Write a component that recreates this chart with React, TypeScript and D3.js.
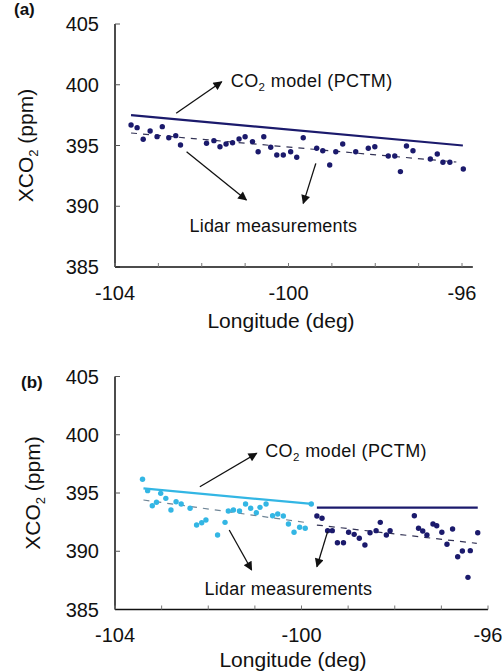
import React from "react";
import * as d3 from "d3";

// ---------- data ----------
// Panel (a): lidar measurements
const lonA = [-103.63, -103.49, -103.35, -103.19, -103.03, -102.91, -102.76, -102.6, -102.49, -101.89, -101.72, -101.58, -101.44, -101.29, -101.14, -101.0, -100.83, -100.7, -100.57, -100.41, -100.27, -100.12, -99.95, -99.81, -99.66, -99.35, -99.21, -99.05, -98.91, -98.75, -98.45, -98.16, -98.01, -97.7, -97.55, -97.42, -97.28, -97.13, -96.73, -96.57, -96.44, -96.28, -95.97];
const ppmA = [396.69, 396.47, 395.51, 396.19, 395.73, 396.55, 395.64, 395.81, 395.04, 395.18, 395.4, 394.9, 395.12, 395.23, 395.53, 395.72, 395.32, 394.49, 395.72, 394.85, 394.22, 394.22, 394.49, 394.03, 395.64, 394.77, 394.57, 393.4, 394.49, 395.12, 394.49, 394.77, 394.9, 394.14, 394.14, 392.85, 394.96, 394.57, 393.89, 394.3, 393.62, 393.62, 393.07];
const modelLonA = [-103.63, -95.98];
const modelPpmA = [397.5, 395.0];
const fitLonA = [-103.63, -96.13];
const fitPpmA = [396.03, 393.64];

// Panel (b): lidar measurements, western segment (light blue)
const lonB1 = [-103.41, -103.3, -103.2, -103.11, -103.02, -102.91, -102.8, -102.69, -102.58, -102.39, -102.25, -102.14, -102.05, -101.8, -101.64, -101.57, -101.46, -101.33, -101.2, -101.09, -100.97, -100.89, -100.76, -100.62, -100.51, -100.39, -100.28, -100.16, -100.04, -99.92, -99.79];
const ppmB1 = [396.18, 395.2, 393.91, 394.2, 394.97, 394.54, 393.54, 394.25, 394.06, 393.69, 392.25, 392.45, 392.68, 391.39, 392.48, 393.45, 393.54, 393.45, 394.06, 393.69, 393.31, 393.77, 394.06, 393.05, 393.2, 393.03, 392.34, 391.63, 392.06, 391.97, 394.06];
// Panel (b): lidar measurements, eastern segment (navy)
const lonB2 = [-99.67, -99.56, -99.44, -99.34, -99.23, -99.1, -98.99, -98.87, -98.76, -98.64, -98.53, -98.4, -98.31, -98.18, -98.1, -97.58, -97.49, -97.4, -97.31, -97.18, -97.1, -96.99, -96.88, -96.76, -96.65, -96.55, -96.43, -96.38, -96.22];
const ppmB2 = [393.03, 392.83, 391.77, 391.77, 390.73, 390.73, 391.63, 391.45, 391.11, 390.54, 391.59, 391.77, 392.48, 391.39, 391.77, 393.05, 391.97, 391.74, 391.39, 392.34, 392.19, 391.63, 390.6, 391.91, 389.53, 390.02, 387.76, 390.05, 391.59];
const modelLonB1 = [-103.39, -99.78];
const modelPpmB1 = [395.4, 394.06];
const modelLonB2 = [-99.67, -96.22];
const modelPpmB2 = [393.74, 393.74];
const fitLonB1 = [-103.39, -99.82];
const fitPpmB1 = [394.4, 392.42];
const fitLonB2 = [-99.67, -96.24];
const fitPpmB2 = [392.25, 390.68];

const yTicks = [385, 390, 395, 400, 405];
const xMinorTicks = [-104, -103, -102, -101, -100, -99, -98, -97, -96];
const xTickLabels = [-104, -100, -96];

const modelLabel = "model (PCTM)";
const lidarLabel = "Lidar measurements";
const xTitle = "Longitude (deg)";

// ---------- styles ----------
const FONT = "'Liberation Sans', Arial, Helvetica, sans-serif";
const NAVY = "#1b1a6c";
const LIGHT = "#33b6e4";

type Pt = [number, number];
const zip = (a: number[], b: number[]): Pt[] => a.map((v, i) => [v, b[i]]);

interface PanelCfg {
  label: string;
  yTop: number;
  yBottom: number;
  x0: number;
  x96: number;
  axisEndLon: number;
  yTitleX: number;
  tickLabelY: number;
  xTitleY: number;
  xTitleX: number;
  labelX: number;
  labelY: number;
  co2Arrow: [Pt, Pt];
  co2Text: Pt;
  lidarArrows: [Pt, Pt][];
  lidarText: Pt;
  series: { pts: Pt[]; color: string }[];
  models: { pts: Pt[]; color: string }[];
  fits: { pts: Pt[]; color: string }[];
}

function Panel({ cfg }: { cfg: PanelCfg }) {
  const x = d3.scaleLinear().domain([-104, -96]).range([cfg.x0, cfg.x96]);
  const y = d3.scaleLinear().domain([385, 405]).range([cfg.yBottom, cfg.yTop]);
  const line = d3
    .line<Pt>()
    .x((d) => x(d[0]))
    .y((d) => y(d[1]));
  const yMid = (cfg.yTop + cfg.yBottom) / 2;

  return (
    <g>
      {/* panel label */}
      <text x={cfg.labelX} y={cfg.labelY} fontFamily={FONT} fontSize={17} fontWeight="bold" fill="#111">
        {cfg.label}
      </text>

      {/* y axis title */}
      <text
        transform={`translate(${cfg.yTitleX},${yMid}) rotate(-90)`}
        textAnchor="middle"
        fontFamily={FONT}
        fontSize={21}
        fill="#111"
      >
        XCO
        <tspan fontSize={13} dy={5}>2</tspan>
        <tspan dy={-5}> (ppm)</tspan>
      </text>

      {/* y axis */}
      <line x1={cfg.x0} x2={cfg.x0} y1={y(405)} y2={y(385)} stroke="#111" strokeWidth={1.5} />
      {yTicks.map((t) => (
        <g key={t}>
          <line x1={cfg.x0} x2={cfg.x0 + 5} y1={y(t)} y2={y(t)} stroke="#555" strokeWidth={1} />
          <text
            x={cfg.x0 - 16}
            y={y(t)}
            dy="0.36em"
            textAnchor="end"
            fontFamily={FONT}
            fontSize={20}
            fill="#111"
          >
            {t}
          </text>
        </g>
      ))}

      {/* x axis */}
      <line x1={x(-104)} x2={x(cfg.axisEndLon)} y1={y(385)} y2={y(385)} stroke="#111" strokeWidth={1.5} />
      {xMinorTicks.map((t) => (
        <line key={t} x1={x(t)} x2={x(t)} y1={y(385)} y2={y(385) - 4} stroke="#777" strokeWidth={1} />
      ))}
      {xTickLabels.map((t) => (
        <text key={t} x={x(t)} y={cfg.tickLabelY} textAnchor="middle" fontFamily={FONT} fontSize={20} fill="#111">
          {t}
        </text>
      ))}
      <text x={cfg.xTitleX} y={cfg.xTitleY} textAnchor="middle" fontFamily={FONT} fontSize={21} fill="#111">
        {xTitle}
      </text>

      {/* fit lines (dashed) */}
      {cfg.fits.map((f, i) => (
        <path key={i} d={line(f.pts) || ""} fill="none" stroke={f.color} strokeWidth={1.2} strokeDasharray="6,6" />
      ))}

      {/* model lines */}
      {cfg.models.map((m, i) => (
        <path key={i} d={line(m.pts) || ""} fill="none" stroke={m.color} strokeWidth={2.2} />
      ))}

      {/* lidar points */}
      {cfg.series.map((s, i) => (
        <g key={i}>
          {s.pts.map((p, j) => (
            <circle key={j} cx={x(p[0])} cy={y(p[1])} r={2.7} fill={s.color} />
          ))}
        </g>
      ))}

      {/* annotations */}
      <line
        x1={x(cfg.co2Arrow[0][0])}
        y1={y(cfg.co2Arrow[0][1])}
        x2={x(cfg.co2Arrow[1][0])}
        y2={y(cfg.co2Arrow[1][1])}
        stroke="#111"
        strokeWidth={1.3}
        markerEnd="url(#arrowhead)"
      />
      <text
        x={x(cfg.co2Text[0])}
        y={y(cfg.co2Text[1])}
        fontFamily={FONT}
        fontSize={18}
        letterSpacing={0.4}
        fill="#111"
      >
        CO
        <tspan fontSize={11.5} dy={4}>2</tspan>
        <tspan dy={-4}> {modelLabel}</tspan>
      </text>
      {cfg.lidarArrows.map((a, i) => (
        <line
          key={i}
          x1={x(a[0][0])}
          y1={y(a[0][1])}
          x2={x(a[1][0])}
          y2={y(a[1][1])}
          stroke="#111"
          strokeWidth={1.3}
          markerEnd="url(#arrowhead)"
        />
      ))}
      <text
        x={x(cfg.lidarText[0])}
        y={y(cfg.lidarText[1])}
        textAnchor="middle"
        fontFamily={FONT}
        fontSize={18}
        letterSpacing={0.2}
        fill="#111"
      >
        {lidarLabel}
      </text>
    </g>
  );
}

const panelA: PanelCfg = {
  label: "(a)",
  yTop: 24,
  yBottom: 267,
  x0: 115,
  x96: 462,
  axisEndLon: -95.75,
  yTitleX: 33,
  tickLabelY: 300,
  xTitleY: 328,
  xTitleX: 281,
  labelX: 14,
  labelY: 15,
  co2Arrow: [
    [-102.59, 397.65],
    [-101.54, 400.25],
  ],
  co2Text: [-101.33, 399.84],
  lidarArrows: [
    [
      [-102.35, 394.49],
      [-100.97, 390.51],
    ],
    [
      [-99.37, 393.53],
      [-99.66, 390.24],
    ],
  ],
  lidarText: [-100.35, 387.88],
  series: [{ pts: zip(lonA, ppmA), color: NAVY }],
  models: [{ pts: zip(modelLonA, modelPpmA), color: NAVY }],
  fits: [{ pts: zip(fitLonA, fitPpmA), color: "#333355" }],
};

const panelB: PanelCfg = {
  label: "(b)",
  yTop: 376.5,
  yBottom: 609.5,
  x0: 115,
  x96: 488,
  axisEndLon: -96,
  yTitleX: 40,
  tickLabelY: 642,
  xTitleY: 667,
  xTitleX: 293,
  labelX: 21,
  labelY: 388,
  co2Arrow: [
    [-102.18, 395.54],
    [-100.96, 398.41],
  ],
  co2Text: [-100.78, 398.09],
  lidarArrows: [
    [
      [-101.55, 391.82],
      [-101.07, 388.39],
    ],
    [
      [-99.44, 391.68],
      [-99.67, 388.67],
    ],
  ],
  lidarText: [-100.28, 386.24],
  series: [
    { pts: zip(lonB1, ppmB1), color: LIGHT },
    { pts: zip(lonB2, ppmB2), color: NAVY },
  ],
  models: [
    { pts: zip(modelLonB1, modelPpmB1), color: LIGHT },
    { pts: zip(modelLonB2, modelPpmB2), color: NAVY },
  ],
  fits: [
    { pts: zip(fitLonB1, fitPpmB1), color: "#6f8596" },
    { pts: zip(fitLonB2, fitPpmB2), color: "#333355" },
  ],
};

export default function App() {
  return (
    <svg
      width={502}
      height={671}
      viewBox="0 0 502 671"
      style={{ position: "absolute", left: 0, top: 0, background: "#fff" }}
    >
      <defs>
        <marker
          id="arrowhead"
          viewBox="0 0 10 10"
          refX={9}
          refY={5}
          markerWidth={11}
          markerHeight={9}
          markerUnits="userSpaceOnUse"
          orient="auto"
        >
          <path d="M0,0 L10,5 L0,10 z" fill="#111" />
        </marker>
      </defs>
      <rect x={0} y={0} width={502} height={671} fill="#fff" />
      <Panel cfg={panelA} />
      <Panel cfg={panelB} />
    </svg>
  );
}
